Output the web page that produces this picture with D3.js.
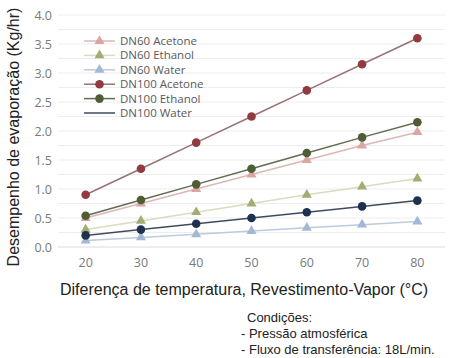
<!DOCTYPE html>
<html><head><meta charset="utf-8">
<script src="https://cdn.jsdelivr.net/npm/d3@7"></script>
<style>body{margin:0;background:#fff}svg{display:block}</style>
</head><body>
<script>
const categories = ["20","30","40","50","60","70","80"];
const seriesNames = ["DN60 Acetone","DN60 Ethanol","DN60 Water","DN100 Acetone","DN100 Ethanol","DN100 Water"];
const dn60Acetone = [0.50,0.75,1.00,1.25,1.50,1.75,1.98];
const dn60Ethanol = [0.30,0.45,0.60,0.75,0.90,1.04,1.18];
const dn60Water = [0.11,0.165,0.22,0.275,0.33,0.385,0.44];
const dn100Acetone = [0.90,1.35,1.80,2.25,2.70,3.15,3.60];
const dn100Ethanol = [0.54,0.81,1.08,1.35,1.62,1.89,2.15];
const dn100Water = [0.20,0.30,0.40,0.50,0.60,0.70,0.80];
const yTicks = [0,0.5,1.0,1.5,2.0,2.5,3.0,3.5,4.0];
const conditions = ["Condições:","- Pressão atmosférica","- Fluxo de transferência: 18L/min."];

const styles = [
  {values: dn60Acetone, marker:"tri", mc:"#dba5a3", lc:"#dcb7b5"},
  {values: dn60Ethanol, marker:"tri", mc:"#a3ad72", lc:"#d9dcbf"},
  {values: dn60Water, marker:"tri", mc:"#a3b8d3", lc:"#bccbdd"},
  {values: dn100Acetone, marker:"circ", mc:"#913b40", lc:"#987376"},
  {values: dn100Ethanol, marker:"circ", mc:"#4f5d35", lc:"#636c52"},
  {values: dn100Water, marker:"circ", mc:"#1e3250", lc:"#3f4b5c"}
];

const W=455,H=358;
const svg=d3.select("body").append("svg").attr("width",W).attr("height",H);
const x=d3.scaleBand().domain(categories).range([58,445]);
const y=d3.scaleLinear().domain([0,4]).range([247,15]);

const grid=d3.range(0,4.001,0.25);
svg.append("g").selectAll("line").data(grid).join("line")
  .attr("x1",58).attr("x2",445).attr("y1",d=>y(d)).attr("y2",d=>y(d))
  .attr("stroke",d=>d===0?"#dcdcdc":"#ededed").attr("stroke-width",1);

const yAxis=d3.axisLeft(y).tickValues(yTicks).tickFormat(d3.format(".1f")).tickSize(0).tickPadding(6);
const gy=svg.append("g").attr("transform","translate(58,0)").call(yAxis);
gy.select(".domain").remove();
gy.selectAll("text").attr("fill","#7a7a7a").style("font-family","Open Sans, sans-serif").style("font-size","12.5px");

const xAxis=d3.axisBottom(x).tickSize(0).tickPadding(11);
const gx=svg.append("g").attr("transform","translate(0,247)").call(xAxis);
gx.select(".domain").remove();
gx.selectAll("text").attr("fill","#7a7a7a").style("font-family","Open Sans, sans-serif").style("font-size","12.5px");

const cx=c=>x(c)+x.bandwidth()/2;
const line=d3.line().x((d,i)=>cx(categories[i])).y(d=>y(d));
const tri=d3.symbol().type(d3.symbolTriangle).size(44);

styles.forEach((s)=>{
  svg.append("path").attr("d",line(s.values)).attr("fill","none").attr("stroke",s.lc).attr("stroke-width",1.5);
});
styles.forEach((s)=>{
  const g=svg.append("g");
  if(s.marker==="tri"){
    g.selectAll("path").data(s.values).join("path").attr("d",tri)
      .attr("transform",(d,i)=>`translate(${cx(categories[i])},${y(d)})`).attr("fill",s.mc);
  } else {
    g.selectAll("circle").data(s.values).join("circle")
      .attr("cx",(d,i)=>cx(categories[i])).attr("cy",d=>y(d)).attr("r",4.3).attr("fill",s.mc);
  }
});

const leg=svg.append("g");
seriesNames.forEach((n,i)=>{
  const s=styles[i];
  const ly=41+i*14.4;
  leg.append("line").attr("x1",84).attr("x2",115).attr("y1",ly).attr("y2",ly).attr("stroke",s.lc).attr("stroke-width",1.5);
  if(i<3){
    leg.append("path").attr("d",tri).attr("transform",`translate(99.5,${ly})`).attr("fill",s.mc);
  } else if(i<5){
    leg.append("circle").attr("cx",99.5).attr("cy",ly).attr("r",4.3).attr("fill",s.mc);
  }
  leg.append("text").attr("x",120).attr("y",ly).attr("dy","0.35em").text(n)
    .attr("fill","#5a5a5a").style("font-family","Open Sans, sans-serif").style("font-size","11.5px");
});

svg.append("text").attr("x",244).attr("y",295).attr("text-anchor","middle").text("Diferença de temperatura, Revestimento-Vapor (°C)")
  .attr("fill","#222").style("font-family","Liberation Sans, Arial, sans-serif").style("font-size","16px");
svg.append("text").attr("transform","translate(19,137) rotate(-90)").attr("text-anchor","middle").text("Desempenho de evaporação (Kg/hr)")
  .attr("fill","#222").style("font-family","Liberation Sans, Arial, sans-serif").style("font-size","16px");

const cond=svg.append("g");
cond.append("text").attr("x",247).attr("y",322).text(conditions[0]);
cond.append("text").attr("x",241).attr("y",338).text(conditions[1]);
cond.append("text").attr("x",241).attr("y",354).text(conditions[2]);
cond.selectAll("text").attr("fill","#222").style("font-family","Liberation Sans, Arial, sans-serif").style("font-size","13px");
</script>
</body></html>
